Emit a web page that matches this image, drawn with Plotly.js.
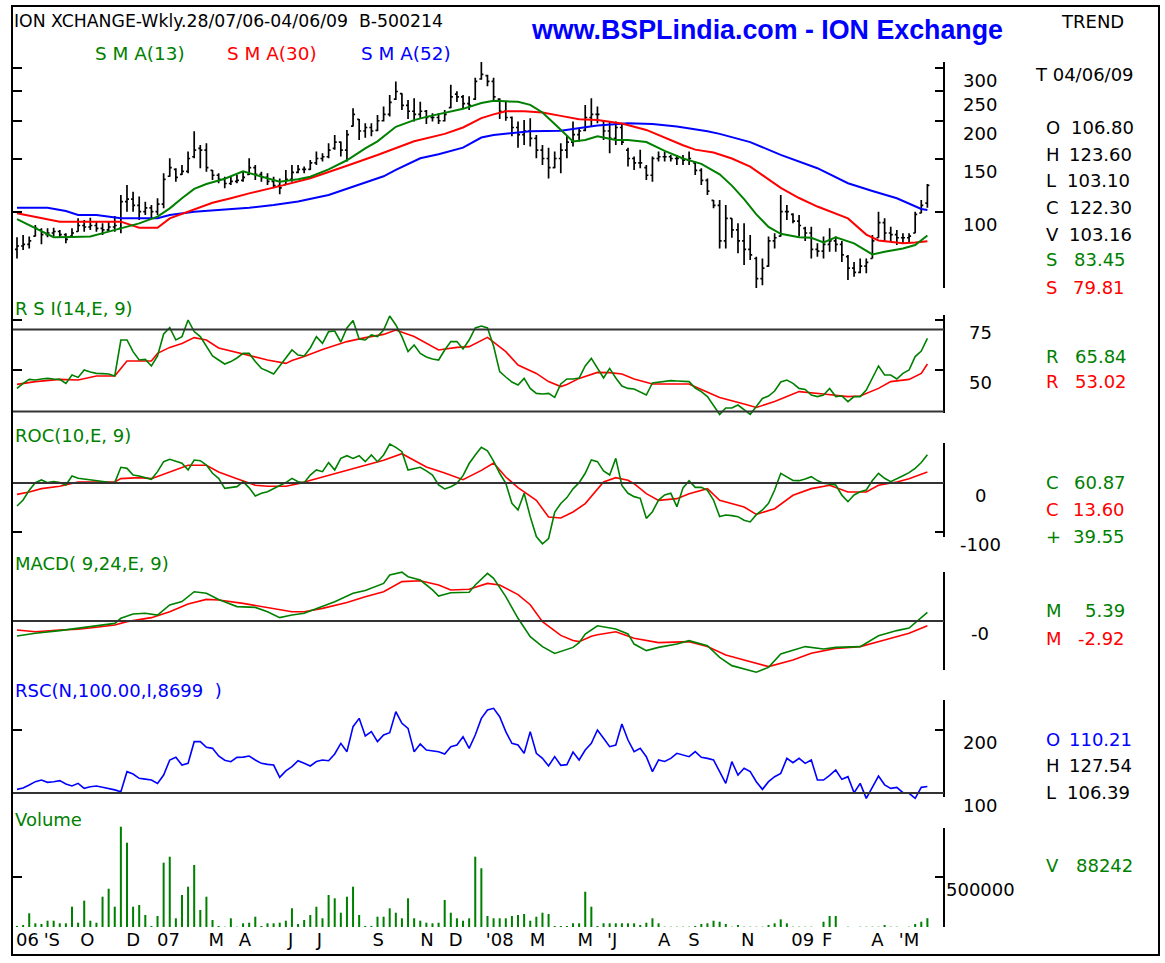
<!DOCTYPE html>
<html><head><meta charset="utf-8">
<script src="https://cdn.plot.ly/plotly-3.0.1.min.js"></script>
<style>html,body{margin:0;padding:0;background:#fff;}#chart{width:1165px;height:963px;}</style>
</head><body><div id="chart"></div>
<script>
// ---------- DATA (weekly bars, 28/07/06 .. 04/06/09) ----------
const weeks = Array.from({length:150}, (_, i) => i);
const open = [75,77,78,83,87,84,85,86,84,83, 86,90,89,90,88,87,89,88,108,110, 105,100,103,100,106,131,138,133,136,152, 162,160,137,132,128,124,126,127,133,140, 133,130,126,122,123,128,135,138,138,145, 150,152,162,170,160,192,202,185,190,186, 200,210,236,246,225,215,210,215,205,205, 200,221,245,240,228,236,275,282,270,236, 215,205,190,180,185,175,160,150,140,150, 160,170,180,186,205,210,200,185,175,190, 160,150,145,140,132,150,152,152,150,150, 148,145,137,127,109,105,80,95,87,80, 75,70,60,66,80,83,100,98,93,88, 85,75,74,78,80,78,71,65,63,66, 70,82,92,85,84,82,82,85,99,106.8];
const high = [82.3,83.7,82.8,90.4,88.1,88.1,88.5,87,84.8,88.1, 95.1,93.9,95.5,92.7,91.5,92.7,96.8,113.6,122.6,116.5, 112.2,107.9,105.2,110.8,134,150.3,139.3,142.8,158.1,184.5, 166.3,168.6,137.5,134,130.6,130.6,132.3,135.7,150.3,142.8, 135.7,134,130.6,128.9,137.5,142.8,142.8,141.1,148.4,158.1, 156.2,168.6,179.5,170.7,186.5,220,202.8,196.3,196.3,209, 223,243.6,269.6,246.7,234.5,237.6,231.4,217.3,211.9,211.9, 217.3,263,250.6,243.6,240.9,277.8,314.3,283.8,277.8,237.6, 231.4,206.5,198.7,201.3,204,179.5,166.3,162.7,158.1,168.6, 179.5,198.7,189.4,225.7,237.6,223,201.3,198.7,198.7,196.3, 162.7,152.2,160.2,142.8,152.2,158.1,158.1,154.2,154.2,154.2, 158.1,146.5,139.3,128.9,109.3,109.3,105.2,95.1,91.5,91.5, 83.7,71,70,82.8,84.8,113.6,105.2,98.8,97.5,89.2, 89.2,78.6,82.8,88.1,82.8,80,71.9,68.2,70,70, 83.7,100,95.1,89.2,87,84.8,84.8,100,109.3,123.6];
const low = [70,74.7,75.6,82.8,78,82.3,82.8,82,78.6,82.3, 85.9,85.9,87,85.9,83.7,85.9,85.9,84.8,100,100, 93.9,97.5,95.1,97.5,102.6,130.6,125.7,132.3,134,150.3, 139.3,135.7,127.4,124.2,119.6,122.6,124.2,125.7,132.3,127.4, 125.7,122.6,119.6,114.2,122.6,125.7,134,134,137.5,142.8, 146.5,150.3,160.2,152.2,146.5,191.4,172.8,175.6,177.7,184.5, 198.7,206.5,234.5,217.3,202.8,198.7,202.8,195,198.7,195, 198.7,220,230.6,220,217.3,234.5,273.2,260.2,231.4,202.8, 200,177.7,162.7,166.3,164.5,150.3,142.8,128.9,139.3,134, 150.3,164.5,170.7,184.5,191.4,196.3,172.8,156.2,166.3,166.3, 141.1,137.5,139.3,127.4,125.7,146.5,146.5,146.5,142.8,142.8, 142.8,132.3,122.6,113.6,102.6,75.6,75.6,82,72.9,66.6, 69.2,55.7,57.1,65.7,75.6,82.8,93.9,91.5,82.8,80, 70,71,70,73.7,73.7,68.2,59.4,60.9,62.5,62.5, 70,82,80,80,77.6,78.6,78.6,84.8,98.8,103.1];
const close = [77,78,80,88,84,85,86,84,81,85, 90,89,90,88,87,89,90,108,110,105, 100,103,100,106,128,140,130,136,150,160, 160,140,132,128,124,126,127,130,140,133, 130,126,122,120,128,135,138,138,145,150, 152,160,170,160,180,210,185,190,185,200, 210,230,250,225,215,210,215,205,205,200, 210,240,240,228,225,270,285,270,240,215, 205,190,180,185,175,160,150,140,150,160, 170,180,185,205,210,210,185,175,190,170, 150,145,145,132,150,152,152,150,150,148, 150,137,127,117,105,80,95,87,80,75, 72,60,65,80,82,100,100,93,90,85, 75,74,78,80,78,72,65,63,66,68, 80,92,85,84,82,82,83,98,105,122.3];

const sma13Weeks = [0,3,6,9,12,15,18,20,23,25,27,29,31,34,37,40,43,46,48,51,54,57,59,62,65,67,70,73,76,78,80,82,84,86,88,90,91,93,95,98,100,103,106,109,112,115,117,119,121,123,125,128,130,132,134,137,140,142,145,147,149];
const sma13 = [94.5,88,82.3,82.5,82.8,85.9,89.5,91.5,96.3,102.6,110.8,119,123.5,128.5,136,131,125.7,128,130.6,138,148,162,171,191,201,206,212,219,229,233,232,231,225.7,213,195,178,170.7,172.8,177.7,172.8,172.8,170,159,150,144,133,122,110,98,89,84.5,82.3,82,79.1,82.3,78.6,72.2,73.7,75.5,77.6,83.45];
const sma30Weeks = [0,4,7,12,17,20,23,25,28,30,32,35,38,43,48,54,59,65,70,73,76,78,80,83,86,89,92,95,99,103,106,109,111,114,117,120,123,125,128,131,136,139,141,145,147,149];
const sma30 = [98.8,95,92.7,92.7,92.7,88.5,88.5,95,100,103,107,110.8,115,121.5,129,142,154,171,181,190,204,210,215,215,213,207.6,202.5,201.3,196,186.5,175.5,166,160.5,157,150,141,128,120,111,104,95,84,80.3,78.6,79.1,79.81];
const sma52Weeks = [0,5,8,10,13,17,23,25,29,35,38,42,46,51,56,60,62,66,69,73,76,78,84,89,95,100,104,108,113,115,120,125,131,136,140,144,148,149];
const sma52 = [103.1,103.1,100.5,97.5,97.5,95.1,95.1,97.5,100,102,103.1,105.2,108,113.6,122.6,131,137.5,150.3,155,163,176,179.5,184.5,185.5,193,196.3,195,191.4,184.5,181,170,154.2,139.3,124.2,117.1,110.8,102.1,101.3];

const rsi = [40.8,43.3,45.3,45,45.5,45.8,45.5,45.3,43.3,47.5, 46.3,50,49,48.3,48.2,48,47,65,65,59.2, 55,55.3,52,57,68,71.2,65,66.7,75,69.2, 66.7,62,57,55,53,54.2,56,58.3,58.3,54.2, 50.8,49.5,48,52,56,60,57.5,57,61,66.7, 63.3,69.2,69.5,64,71,74.7,65.5,65,67.5,66.7, 70,77,72.5,66.7,59.2,62.5,58.3,56.5,55.5,55, 60,64.2,64.2,60.5,65,71,72,71,62,49.2, 46.5,44,42.5,45.8,40.8,38.3,38,38.3,36.3,43, 45.5,45.5,46,52,55.8,51,46,50.8,46,42, 40.8,40.5,39.2,37.5,43.5,44,44.5,44.7,44.5,44.2, 44.2,41,39.2,36.7,32.5,27.8,31,31,32.5,30, 27.8,31.7,35.8,37,39.5,44,45,43.3,40.8,40.3, 37.5,36.7,37.5,40.8,36.7,37,34.2,36.7,36.7,40, 46,52,47.5,47.5,45.5,48.3,50,56.7,59.5,65.84];
const rsiSigWeeks = [0,3,7,10,13,16,17,18,22,23,25,27,29,31,33,37,41,44,45,47,50,54,57,60,62,65,67,69,72,74,77,80,82,85,87,89,90,92,95,97,99,101,104,110,112,115,119,121,124,128,132,136,138,141,143,146,148,149];
const rsiSig = [42.8,44.2,45.3,45,47,47,50.8,54.5,54.5,58.3,61.3,63.3,66.2,65,61,58,55,53.3,54.7,56.7,60.3,64.2,66.2,67.8,70,66.7,63.3,60,61.3,61.7,66.3,59.2,52.5,48.3,44.2,41.7,42.8,45.8,48.8,48.7,48,45.5,43,43,40.3,36.3,33,31.3,34.2,39.2,38,36.7,37,40.8,44.2,45.3,48.3,53.02];

const roc = [-47.2,-35,-15,0.7,6.2,0.7,2.7,0.7,-4.1,14.4, 9.6,8,6.2,3.5,2.7,1.5,0.7,32.2,30.1,16.4, 14.4,11,7.5,23.3,43.8,48.6,44,40.4,26.7,47.2, 45.9,37,20,9.6,-10.9,-9,-7.5,2.7,-10,-26.7, -21.2,-17.8,-10.9,-5,0.7,9.6,2.7,0.7,16.4,26.7, 23.3,41.8,26.7,50.6,56.1,50.6,56.1,43.8,57.5,43.8, 57.5,80.1,73.2,64.3,26.7,30.1,32.2,25,16.4,-4.1, -12.3,-7.5,-0.7,15,40,57.5,73.2,66,45,20, -0.7,-41.8,-55.4,-21.2,-69.1,-110,-125,-114,-60,-42, -30,-12,0.7,20,47.2,43.8,25,16.4,50.6,-5, -21.2,-28,-31.5,-72.6,-58.9,-35,-24.6,-21.2,-48.6,-10, 4.8,-8.9,-8.9,-15,-34.9,-69.1,-65.7,-67,-69.1,-76.5, -79.9,-65,-55.4,-41.8,-14.4,19.9,13,5,4.8,8, 13,5,-0.7,-2,-4.1,-25,-38.4,-24.6,-18,-14.4, 5,19.9,9.6,2.7,9.6,15,21.2,30.1,42,58];
const rocSigWeeks = [0,2,4,7,10,13,16,17,20,22,24,26,28,31,33,36,39,41,44,46,49,51,54,57,60,63,65,67,70,73,76,78,80,82,85,87,89,91,93,95,96,98,100,101,103,105,108,110,113,115,119,121,124,127,130,133,136,139,141,144,146,149];
const rocSig = [-23.3,-18.5,-11.6,-6.8,2.1,2.1,2.1,8.9,11,8.9,17.8,26,36.3,36.3,22.6,8.9,-4.8,-6.8,-6.8,-1.4,8.9,15.7,26,36.3,46.5,60.2,46.5,32.9,20.5,6.8,26,41.1,12.3,-9.6,-35.6,-69.8,-72,-59.5,-42.4,-11.6,2.1,11,5.5,-1.4,-21.9,-35.6,-32.2,-21.9,-11.6,-35.6,-49.3,-64.4,-52.7,-25.3,-11.6,-4.8,-18.5,-18.5,-4.8,2.1,8.9,22.6];

const macdWeeks = [0,3,7,10,13,16,17,19,21,23,25,27,29,31,33,36,39,41,43,45,47,50,52,55,57,60,61,63,64,66,68,69,71,74,75,77,78,80,82,84,86,88,91,92,93,95,98,100,101,103,105,108,110,113,115,117,121,123,125,129,132,134,138,141,144,146,149];
const macd = [-9.4,-7.7,-6,-4.6,-3.1,-1.5,1.7,4.4,4.8,3.7,10,12.1,18.3,17.3,13.5,9,8.5,5.8,2.1,3.7,4.8,9,12.1,17.3,19,23.5,28.8,30.5,27.7,25.6,19.4,15.6,17.7,18,22.5,29.8,26.7,15.2,1.7,-9.8,-16,-20.3,-16.5,-13.5,-8.1,-3,-5,-8.1,-14.4,-18.5,-16.5,-14.4,-12.3,-15.4,-22.7,-27.9,-32,-29,-20.6,-16,-17.5,-16.5,-16,-9.2,-6,-4.4,5.39];
const macdSigWeeks = [0,3,7,10,13,16,18,22,25,28,31,33,37,41,45,47,50,54,57,60,63,66,69,71,74,77,79,82,84,86,89,91,92,94,95,98,101,105,110,113,116,119,123,127,130,134,138,142,146,149];
const macdSig = [-5.6,-6.7,-5.6,-5.2,-3.9,-2.5,-0.4,2.1,5.8,10.6,13.5,13.1,11,8.5,5.8,5.8,7.9,11.5,15.2,18.3,24.6,25.2,22.5,19.4,19.8,23.5,22.5,16.5,10.2,-0.4,-9,-12.2,-12.9,-9.5,-8.6,-6.7,-10.8,-13.5,-12.9,-16,-21.2,-24.4,-28.5,-24.4,-20.2,-17.1,-16,-11.9,-7.7,-2.92];

const rsc = [105.8,108,112.7,118,120.6,116.9,118,119.6,114.3,111.1, 115.3,107.4,110,111.1,109,107.4,105,102.1,133.9,130.2, 123.3,122,120.6,115.3,128.6,152.4,156.6,144.4,147.1,181.5, 181.5,172.5,170.9,158.7,152,149.7,156.6,157,158.7,152.4, 147.1,145.5,144.4,124.9,135,141.8,151.3,147.1,142.9,150, 152.4,151.3,161.9,178.8,165.6,205.3,218.5,190.5,197.4,181.5, 192.1,195.8,229.1,210.6,202.6,165.6,177.7,168.3,167,165.6, 161.9,173.5,176.2,189.4,170.9,192.1,218.5,231.7,234.4,221.2, 197.4,178.8,176.2,163,197.4,163,155,143,157.7,144, 145,165,152.4,168.3,178.8,200,186.8,173.5,176.2,209.5, 184.1,165.6,170.9,157.7,133.9,152.4,150,155,163,160, 157.7,165.6,156.6,155,152.4,133.9,115.3,149.7,128.6,139.2, 133.9,118,105.8,118,125.9,131.2,155,148.1,155,147.1, 152.4,120.6,120.6,128,136.5,121.7,125.9,100.5,115.3,91.5, 110,127,113,107.4,109,100.5,99.5,91.5,109,110.2];

const volume = [10,20,137,37,30,63,63,37,37,203, 43,263,63,43,303,383,203,1003,843,203, 220,120,10,110,643,703,87,320,403,620, 170,303,70,10,3,87,3,37,43,103, 10,37,37,43,63,187,30,70,120,203, 87,320,287,143,303,403,120,10,10,103, 103,187,143,87,287,87,63,43,37,43, 270,143,87,63,87,703,587,110,87,87, 87,110,120,130,63,103,143,130,10,10, 10,37,37,353,203,10,37,37,37,37, 37,37,20,43,87,37,3,3,3,3, 3,10,30,37,63,53,30,3,20,3, 3,3,3,20,37,77,37,3,3,3, 3,0,53,110,110,0,3,0,3,3, 3,3,20,3,3,0,3,30,53,88.242].map(v => v * 1000);

const tickWeeks = [1.7,5.7,11.5,19,24.8,32.6,37.3,44.8,49.5,59.1,67.1,71.8,79,85.2,93,97.4,105.9,110.8,119.6,128.6,132.6,140.8,146];
const tickLabels = ["06","'S","O","D","07","M","A","J","J","S","N","D","'08","M","M","'J","A","S","N","09","F","A","'M"];

const priceTicks = [100,150,200,250,300];
const rsiTicks = [75,50];
const rocTicks = [0,-100];
const macdTicks = [0];
const rscTicks = [200,100];
const volTicks = [500000];

// ---------- LAYOUT HELPERS ----------
const W = 1165, H = 963;
const FONT = 'DejaVu Sans';
const GREEN = '#008000', RED = '#ff0000', BLUE = '#0000ff';
const px = v => v / W;
const py = v => 1 - v / H;

const yBase = {side:'right', anchor:'x', ticks:'inside', ticklen:9, tickwidth:2, tickcolor:'#000',
  showticklabels:false, mirror:'ticks', showgrid:false, zeroline:false, showline:false, fixedrange:true};

const layout = {
  width:W, height:H, margin:{l:0,r:0,t:0,b:0}, paper_bgcolor:'#fff', plot_bgcolor:'rgba(0,0,0,0)',
  showlegend:false, font:{family:FONT, size:18, color:'#000'},
  xaxis:{domain:[px(13), px(944)], range:[(13-17)/6.11, (944-17)/6.11], anchor:'y6',
    tickmode:'array', tickvals:tickWeeks, ticktext:tickLabels, ticks:'', showgrid:false, zeroline:false,
    showline:false, rangeslider:{visible:false}, tickfont:{family:FONT, size:18, color:'#000'}, fixedrange:true},
  yaxis: Object.assign({}, yBase, {domain:[py(288), py(62)], type:'log', range:[Math.log10(55.9), Math.log10(313)], tickvals:priceTicks}),
  yaxis2: Object.assign({}, yBase, {domain:[py(416), py(315)], range:[27, 77.5], tickvals:rsiTicks}),
  yaxis3: Object.assign({}, yBase, {domain:[py(548), py(440)], range:[-133.5, 88.3], tickvals:rocTicks}),
  yaxis4: Object.assign({}, yBase, {domain:[py(675), py(568)], range:[-33.75, 33.125], tickvals:macdTicks}),
  yaxis5: Object.assign({}, yBase, {domain:[py(800), py(697)], range:[88.9, 252.4], tickvals:rscTicks}),
  yaxis6: Object.assign({}, yBase, {domain:[py(927), py(825)], range:[0, 1020000], tickvals:volTicks}),
  shapes:[], annotations:[]
};

// frame
layout.shapes.push({type:'rect', xref:'paper', yref:'paper', x0:px(12), x1:px(1159), y0:py(955), y1:py(6), line:{color:'#000', width:2}});
// right axis lines
[[62,288],[315,413],[443,537],[572,670],[700,797],[828,927]].forEach(([a,b]) => {
  layout.shapes.push({type:'line', xref:'paper', yref:'paper', x0:px(944), x1:px(944), y0:py(a), y1:py(b), line:{color:'#000', width:2}});
});
// reference lines
[['y2',70.3],['y2',29.2],['y3',0],['y4',0],['y5',100]].forEach(([ax,v]) => {
  layout.shapes.push({type:'line', xref:'paper', yref:ax, x0:px(13), x1:px(944), y0:v, y1:v, line:{color:'#333', width:2}});
});

// axis tick labels (centred right of the axis, below each tick)
function tickLab(ax, vals, isLog, texts) {
  vals.forEach((v, k) => layout.annotations.push({xref:'paper', yref:ax, x:px(980), y:isLog ? Math.log10(v) : v,
    text: texts ? texts[k] : String(v), showarrow:false, xanchor:'center', yanchor:'middle', yshift:-12.8,
    font:{family:FONT, size:18, color:'#000'}}));
}
tickLab('y', priceTicks, true);
tickLab('y2', rsiTicks, false);
tickLab('y3', rocTicks, false);
tickLab('y4', macdTicks, false, ['-0']);
tickLab('y5', rscTicks, false);
tickLab('y6', volTicks, false);

function txt(text, x, y, color, anchor, size, extra) {
  layout.annotations.push(Object.assign({xref:'paper', yref:'paper', x:px(x), y:py(y), text:text, showarrow:false,
    xanchor:anchor || 'left', yanchor:'middle', font:{family:FONT, size:size || 18, color:color || '#000'}}, extra || {}));
}
// header
txt('ION XCHANGE-Wkly.28/07/06-04/06/09  B-500214', 12, 21.5, '#000', 'left', 17.3);
txt('<b>www.BSPLindia.com - ION Exchange</b>', 767, 30, BLUE, 'center', 26.5, {font:{family:'Liberation Sans, Arial, sans-serif', size:26.8, color:BLUE}});
txt('TREND', 1092.7, 22, '#000', 'center');
txt('S M A(13)', 93, 53, GREEN, 'left', 18.4);
txt('S M A(30)', 225, 53, RED, 'left', 18.4);
txt('S M A(52)', 359, 53, BLUE, 'left', 18.4);
// panel titles
txt('R S I(14,E, 9)', 13, 309, GREEN);
txt('ROC(10,E, 9)', 13, 435.5, GREEN);
txt('MACD( 9,24,E, 9)', 13, 563, GREEN);
txt('RSC(N,100.00,I,8699  )', 13, 690, BLUE);
txt('Volume', 13, 819, GREEN);
// right column
txt('T 04/06/09', 1033, 74.5);
const rows = [
  ['O','106.80',128,'#000',1136],['H','123.60',154.5,'#000',1134],['L','103.10',180,'#000',1132],
  ['C','122.30',207.5,'#000',1134],['V','103.16',234.5,'#000',1134],['S','83.45',259.5,GREEN,1128],
  ['S','79.81',287.5,RED,1127],['R','65.84',356.7,GREEN,1129],['R','53.02',381.5,RED,1129],
  ['C','60.87',483,GREEN,1128],['C','13.60',510,RED,1127],['+','39.55',536.5,GREEN,1127],
  ['M','5.39',610,GREEN,1127],['M','-2.92',638.3,RED,1127],
  ['O','110.21',739,BLUE,1134],['H','127.54',765.5,'#000',1134],['L','106.39',792.5,'#000',1132],
  ['V','88242',865.5,GREEN,1135]
];
rows.forEach(([l, v, y, c, r]) => { txt(l, 1044, y, c, 'left'); txt(v, r, y, c, 'right'); });

// ---------- TRACES ----------
const line = (x, y, ax, color, w) => ({type:'scatter', mode:'lines', x:x, y:y, xaxis:'x', yaxis:ax,
  line:{color:color, width:w || 1.6}, hoverinfo:'skip'});
const traces = [
  line(sma52Weeks, sma52, 'y', BLUE, 2),
  line(sma30Weeks, sma30, 'y', RED, 2),
  line(sma13Weeks, sma13, 'y', GREEN, 2),
  {type:'ohlc', x:weeks, open:open, high:high, low:low, close:close, xaxis:'x', yaxis:'y', tickwidth:0.33,
    increasing:{line:{color:'#000', width:1.7}}, decreasing:{line:{color:'#000', width:1.7}}, hoverinfo:'skip'},
  line(rsiSigWeeks, rsiSig, 'y2', RED),
  line(weeks, rsi, 'y2', GREEN),
  line(rocSigWeeks, rocSig, 'y3', RED),
  line(weeks, roc, 'y3', GREEN),
  line(macdSigWeeks, macdSig, 'y4', RED),
  line(macdWeeks, macd, 'y4', GREEN),
  line(weeks, rsc, 'y5', BLUE),
  {type:'bar', x:weeks, y:volume, xaxis:'x', yaxis:'y6', width:0.33, marker:{color:GREEN, line:{width:0}}, hoverinfo:'skip'}
];

Plotly.newPlot('chart', traces, layout, {staticPlot:true, displayModeBar:false});
</script>
</body></html>
